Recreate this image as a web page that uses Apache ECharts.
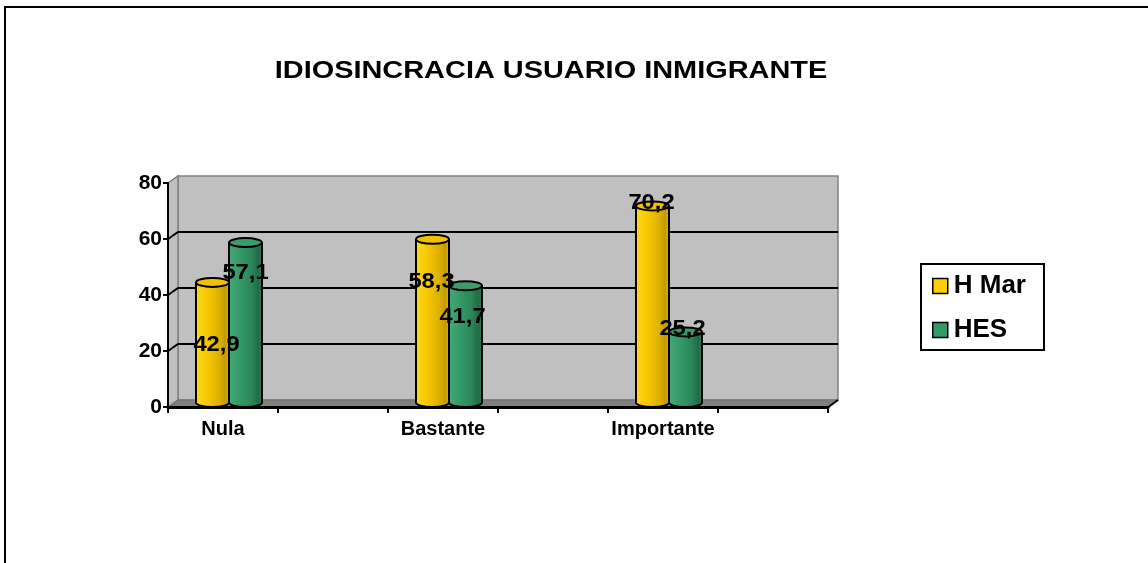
<!DOCTYPE html>
<html>
<head>
<meta charset="utf-8">
<script src="https://cdn.jsdelivr.net/npm/echarts@6/dist/echarts.min.js"></script>
<style>
  html, body { margin: 0; padding: 0; background: #fff; }
  #chart { width: 1148px; height: 563px; }
</style>
</head>
<body>
<div id="chart"></div>
<script>
// Categories (every other slot is an empty column, as in the source workbook)
const categories = ['Nula', '', 'Bastante', '', 'Importante', ''];
const seriesNames = ['H Mar', 'HES'];
const hMar = [42.9, null, 58.3, null, 70.2, null];
const hes = [57.1, null, 41.7, null, 25.2, null];
const yTicks = [0, 20, 40, 60, 80];

// Pixel nudges for the data labels, relative to the top of each cylinder
const labelNudge = {
  'H Mar': [[4, 63], null, [-1, 43], null, [-1, -3], null],
  'HES':   [[0, 30], null, [-3, 31], null, [-3, -3], null]
};

const FONT = "'Liberation Sans', Arial, sans-serif";
const DEPTH_X = 10, DEPTH_Y = -7;       // 3D depth of the walls
const BAR_DX = 6, BAR_DY = -4.5;        // cylinders sit mid-depth

const palette = {
  'H Mar': {
    main: '#FFCC00',
    top: '#F2C200',
    body: [[0, '#FFD81A'], [0.35, '#F7C800'], [0.7, '#DDB000'], [0.88, '#C49C00'], [1, '#D8AE00']]
  },
  'HES': {
    main: '#339966',
    top: '#3A9C6C',
    body: [[0, '#45A877'], [0.35, '#339966'], [0.7, '#2B8458'], [0.88, '#216B46'], [1, '#2A7A52']]
  }
};

const chart = echarts.init(document.getElementById('chart'), null, { renderer: 'canvas' });

// Back wall, side wall, floor and gridlines of the 3D box
function renderWalls(params, api) {
  const cs = params.coordSys;
  const x0 = cs.x, y0 = cs.y, x1 = cs.x + cs.width, y1 = cs.y + cs.height;
  const children = [];
  children.push({
    type: 'rect',
    shape: { x: x0 + DEPTH_X, y: y0 + DEPTH_Y, width: cs.width, height: cs.height },
    style: { fill: '#C0C0C0', stroke: '#808080', lineWidth: 1.5 }
  });
  children.push({
    type: 'polygon',
    shape: { points: [[x0, y0], [x0 + DEPTH_X, y0 + DEPTH_Y], [x0 + DEPTH_X, y1 + DEPTH_Y], [x0, y1]] },
    style: { fill: '#C0C0C0', stroke: '#808080', lineWidth: 1.5 }
  });
  children.push({
    type: 'polygon',
    shape: { points: [[x0, y1], [x0 + DEPTH_X, y1 + DEPTH_Y], [x1 + DEPTH_X, y1 + DEPTH_Y], [x1, y1]] },
    style: { fill: '#808080', stroke: '#707070', lineWidth: 1 }
  });
  yTicks.forEach(function (v) {
    if (v === yTicks[0] || v === yTicks[yTicks.length - 1]) return;
    const y = api.coord([0, v])[1];
    children.push({
      type: 'polyline',
      shape: { points: [[x0, y], [x0 + DEPTH_X, y + DEPTH_Y], [x1 + DEPTH_X, y + DEPTH_Y]] },
      style: { stroke: '#000', lineWidth: 2, fill: null }
    });
  });
  // right end of the floor edge
  children.push({
    type: 'line',
    shape: { x1: x1 - 1, y1: y1 + 1, x2: x1 + DEPTH_X, y2: y1 + DEPTH_Y },
    style: { stroke: '#000', lineWidth: 2 }
  });
  return { type: 'group', children: children };
}

function cylinderRenderer(seriesIndex) {
  const name = seriesNames[seriesIndex];
  const pal = palette[name];
  return function (params, api) {
    const idx = api.value(0);
    const val = api.value(1);
    const catW = api.size([1, 0])[0];
    const barW = catW * 0.3;
    const base = api.coord([idx, 0]);
    const top = api.coord([idx, val]);
    const cx = base[0] + (seriesIndex === 0 ? -barW / 2 : barW / 2) + BAR_DX;
    const baseY = base[1] + BAR_DY;
    const topY = top[1] + BAR_DY;
    const rx = barW / 2, ry = 4.5;
    const grad = {
      type: 'linear', x: 0, y: 0, x2: 1, y2: 0,
      colorStops: pal.body.map(function (s) { return { offset: s[0], color: s[1] }; })
    };
    const nudge = labelNudge[name][idx] || [0, 0];
    const text = val.toFixed(1).replace('.', ',');
    return {
      type: 'group',
      children: [
        { type: 'ellipse', shape: { cx: cx, cy: baseY, rx: rx, ry: ry },
          style: { fill: grad, stroke: '#000', lineWidth: 2 } },
        { type: 'rect', shape: { x: cx - rx, y: topY, width: barW, height: baseY - topY },
          style: { fill: grad } },
        { type: 'line', shape: { x1: cx - rx, y1: topY, x2: cx - rx, y2: baseY },
          style: { stroke: '#000', lineWidth: 2 } },
        { type: 'line', shape: { x1: cx + rx, y1: topY, x2: cx + rx, y2: baseY },
          style: { stroke: '#000', lineWidth: 2 } },
        { type: 'ellipse', shape: { cx: cx, cy: topY, rx: rx, ry: ry },
          style: { fill: pal.top, stroke: '#000', lineWidth: 2 } },
        { type: 'text', z2: 100,
          x: cx + nudge[0], y: topY + nudge[1], scaleX: 1.08,
          style: {
            text: text, fill: '#000',
            font: 'bold 22px ' + FONT,
            align: 'center', verticalAlign: 'middle'
          } }
      ]
    };
  };
}

function toPoints(arr) {
  return arr.map(function (v, i) { return [i, v]; }).filter(function (d) { return d[1] != null; });
}

const option = {
  animation: false,
  backgroundColor: '#fff',
  graphic: [
    { type: 'rect', silent: true, z: 0,
      shape: { x: 5, y: 7, width: 1200, height: 600 },
      style: { fill: null, stroke: '#000', lineWidth: 2 } },
    { type: 'text', silent: true, x: 551, y: 71, scaleX: 1.18,
      style: { text: 'IDIOSINCRACIA USUARIO INMIGRANTE', fill: '#000',
               font: 'bold 24.5px ' + FONT, align: 'center', verticalAlign: 'middle' } }
  ],
  legend: {
    orient: 'vertical',
    left: 921, top: 264,
    padding: [9, 18, 7, 11],
    itemGap: 18,
    itemWidth: 15, itemHeight: 15,
    borderColor: '#000', borderWidth: 2,
    backgroundColor: '#fff',
    icon: 'rect',
    selectedMode: false,
    data: seriesNames.map(function (n) {
      return { name: n, itemStyle: { color: palette[n].main, borderColor: '#000', borderWidth: 1.5 } };
    }),
    textStyle: { fontFamily: FONT, fontWeight: 'bold', fontSize: 26, color: '#000', lineHeight: 26, padding: [0, 0, 0, 1] }
  },
  grid: { left: 168, top: 183, width: 660, height: 224, containLabel: false },
  xAxis: {
    type: 'category',
    data: categories,
    z: 5,
    axisLine: { show: true, lineStyle: { color: '#000', width: 3 } },
    axisTick: { show: true, interval: 0, length: 6, lineStyle: { color: '#000', width: 2 } },
    axisLabel: { interval: 0, margin: 12, color: '#000', fontFamily: FONT, fontWeight: 'bold', fontSize: 20 },
    splitLine: { show: false }
  },
  yAxis: {
    type: 'value',
    min: yTicks[0], max: yTicks[yTicks.length - 1], interval: yTicks[1] - yTicks[0],
    z: 5,
    axisLine: { show: true, lineStyle: { color: '#000', width: 2 } },
    axisTick: { show: true, length: 5, lineStyle: { color: '#000', width: 2 } },
    axisLabel: { margin: 6, color: '#000', fontFamily: FONT, fontWeight: 'bold', fontSize: 21 },
    splitLine: { show: false }
  },
  series: [
    { type: 'custom', name: '__walls', z: 1, silent: true, clip: false,
      renderItem: renderWalls, data: [[0, 0]] },
    { type: 'custom', name: seriesNames[0], z: 3, clip: false,
      itemStyle: { color: palette[seriesNames[0]].main },
      renderItem: cylinderRenderer(0), data: toPoints(hMar) },
    { type: 'custom', name: seriesNames[1], z: 3, clip: false,
      itemStyle: { color: palette[seriesNames[1]].main },
      renderItem: cylinderRenderer(1), data: toPoints(hes) }
  ]
};

chart.setOption(option);
</script>
</body>
</html>
